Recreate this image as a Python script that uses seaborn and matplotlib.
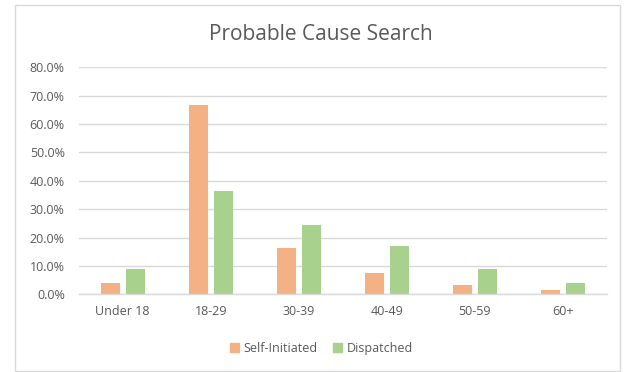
import matplotlib
matplotlib.use("Agg")
import matplotlib.pyplot as plt
import matplotlib.patches as mpatches
from matplotlib.ticker import PercentFormatter
import seaborn as sns
import pandas as pd

categories = ["Under 18", "18-29", "30-39", "40-49", "50-59", "60+"]
self_initiated = [4.0, 66.7, 16.4, 7.5, 3.3, 1.4]
dispatched = [8.9, 36.4, 24.4, 16.9, 8.9, 4.0]
series_names = ["Self-Initiated", "Dispatched"]
colors = ["#F4B183", "#A9D18E"]

rows = []
for c, s, d in zip(categories, self_initiated, dispatched):
    rows.append({"cat": c, "series": series_names[0], "val": s})
    rows.append({"cat": c, "series": series_names[1], "val": d})
df = pd.DataFrame(rows)

sns.set_theme(style="white")
plt.rcParams['font.family'] = ['Open Sans', 'DejaVu Sans']

fig = plt.figure(figsize=(6.24, 3.72), dpi=100)
ax = fig.add_axes([78.7/624, 1-294.3/372, (606.7-78.7)/624, (294.3-67.3)/372])

sns.barplot(data=df, x="cat", y="val", hue="series", palette=colors,
            order=categories, hue_order=series_names, width=0.567, gap=0.24,
            saturation=1, linewidth=0, ax=ax, legend=False)

ax.set_ylim(0, 80)
ax.set_yticks(range(0, 81, 10))
ax.yaxis.set_major_formatter(PercentFormatter(decimals=1))
ax.set_xlim(-0.5, len(categories)-0.5)
ax.grid(axis="y", color="#D9D9D9", linewidth=1)
ax.set_axisbelow(True)
for s in ["top", "right", "left"]:
    ax.spines[s].set_visible(False)
ax.spines["bottom"].set_color("#D9D9D9")
ax.spines["bottom"].set_linewidth(1)
ax.set_xlabel("")
ax.set_ylabel("")
ax.tick_params(axis="both", length=0, labelsize=9, colors="#595959")
ax.tick_params(axis="y", pad=10)
ax.tick_params(axis="x", pad=8)

fig.text(0.515, 1-35/372, "Probable Cause Search", ha="center", va="center",
         fontsize=15, color="#595959")

handles = [mpatches.Patch(color=c, label=n) for c, n in zip(colors, series_names)]
fig.legend(handles=handles, loc="center", bbox_to_anchor=(0.515, 1-348.5/372), ncol=2,
           frameon=False, fontsize=9, handlelength=0.7, handleheight=0.7,
           columnspacing=1.2, handletextpad=0.4, labelcolor="#595959")

border = mpatches.Rectangle((15/624, 1-370.5/372), (620-15)/624, (370.5-5)/372,
                            transform=fig.transFigure, fill=False,
                            edgecolor="#D9D9D9", linewidth=1)
fig.patches.append(border)

fig.savefig("out.png", dpi=100)
